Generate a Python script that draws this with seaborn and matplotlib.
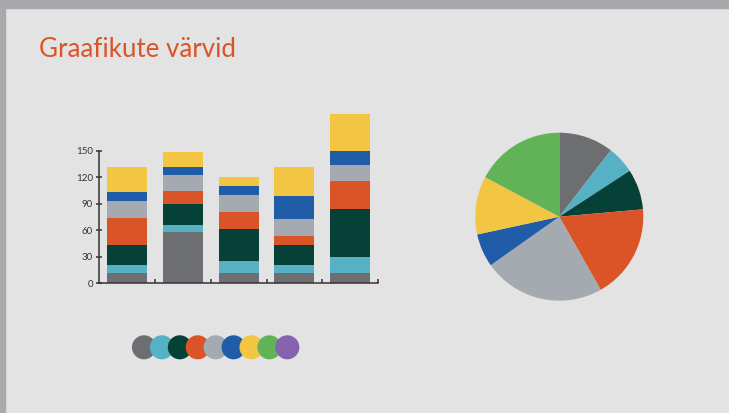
import numpy as np
import pandas as pd
import matplotlib
matplotlib.use('Agg')
import matplotlib.pyplot as plt
import seaborn as sns
from matplotlib.patches import Rectangle

# palette (order of the swatches at the bottom)
colors = ['#6d6e71', '#55b1c3', '#054137', '#db5427', '#a4aaaf',
          '#215ca9', '#f2c642', '#62b357', '#8563ae']

# stacked bars: one list per colour layer, five bars
bar_names = ['A', 'B', 'C', 'D', 'E']
layer_gray = [12, 58, 12, 12, 12]
layer_teal = [9, 8, 13, 9, 18]
layer_dkgreen = [22, 24, 36, 22, 54]
layer_orange = [31, 14, 20, 10, 32]
layer_ltgray = [19, 19, 19, 20, 18]
layer_blue = [10, 9, 10, 26, 16]
layer_yellow = [28, 17, 10, 33, 41]
layers = [layer_gray, layer_teal, layer_dkgreen, layer_orange,
          layer_ltgray, layer_blue, layer_yellow]

y_ticks = [0, 30, 60, 90, 120, 150]

# pie shares (clockwise from 12 o'clock)
pie_values = [10.5, 5.3, 7.8, 18.2, 23.4, 6.4, 11.2, 17.2]

bg = '#e3e3e3'
ink = '#333333'

sns.set_theme(style='white')
plt.rcParams['font.family'] = ['Lato', 'DejaVu Sans']

fig = plt.figure(figsize=(7.29, 4.13), dpi=100, facecolor=bg)

# grey frame on top and left
fig.patches.append(Rectangle((0, 1 - 8 / 413), 1, 8 / 413, transform=fig.transFigure,
                             color='#a9a9ad', zorder=0))
fig.patches.append(Rectangle((0, 0), 5 / 729, 1, transform=fig.transFigure,
                             color='#a9a9ad', zorder=0))

fig.text(39 / 729, 1 - 57 / 413, 'Graafikute värvid', color='#db5427',
         fontsize=18.6, ha='left', va='baseline')

# --- stacked bar chart ---
ax = fig.add_axes([99.3 / 729, (413 - 283.3) / 413, 278.7 / 729, 176.8 / 413])
ax.set_facecolor('none')
bottom = np.zeros(len(bar_names))
for vals, c in zip(layers, colors):
    sns.barplot(x=bar_names, y=vals, bottom=bottom, color=c, saturation=1,
                width=0.72, errorbar=None, linewidth=0, ax=ax)
    bottom = bottom + np.array(vals)

ax.set_xlim(-0.5, 4.5)
ax.set_ylim(0, 200)
ax.set_xticks([0.5, 1.5, 2.5, 3.5, 4.5])
ax.set_xticklabels([])
ax.set_yticks(y_ticks)
ax.set_yticklabels([str(t) for t in y_ticks])
ax.set_xlabel('')
ax.set_ylabel('')
for s in ['top', 'right']:
    ax.spines[s].set_visible(False)
for s in ['left', 'bottom']:
    ax.spines[s].set_color(ink)
    ax.spines[s].set_linewidth(1.1)
ax.spines['left'].set_bounds(0, 150)
ax.tick_params(axis='x', direction='in', length=3, width=1.1, color=ink, bottom=True)
ax.tick_params(axis='y', direction='inout', length=5, width=1.1, color=ink,
               labelsize=7, labelcolor=ink, pad=2, left=True)

# --- pie chart ---
pax = fig.add_axes([(559.3 - 84) / 729, (413 - 216.7 - 84) / 413, 168 / 729, 168 / 413])
pax.pie(pie_values, colors=colors[:8], startangle=90, counterclock=False,
        wedgeprops=dict(linewidth=0))
pax.set_xlim(-1, 1)
pax.set_ylim(-1, 1)
pax.set_aspect('equal')
pax.axis('off')

# --- colour swatches ---
lax = fig.add_axes([135 / 729, (413 - 359.3) / 413, 161.3 / 729, 24 / 413])
sw = pd.DataFrame({'pos': np.arange(len(colors)), 'y': np.zeros(len(colors)), 'col': colors})
sns.scatterplot(data=sw, x='pos', y='y', hue='col', palette=colors, s=300,
                linewidth=0, legend=False, ax=lax)
for coll in lax.collections:
    coll.set_clip_on(False)
lax.set_xlim(-0.5, len(colors) - 0.5)
lax.set_ylim(-1, 1)
lax.axis('off')

fig.savefig('out.png', dpi=100, facecolor=bg)
